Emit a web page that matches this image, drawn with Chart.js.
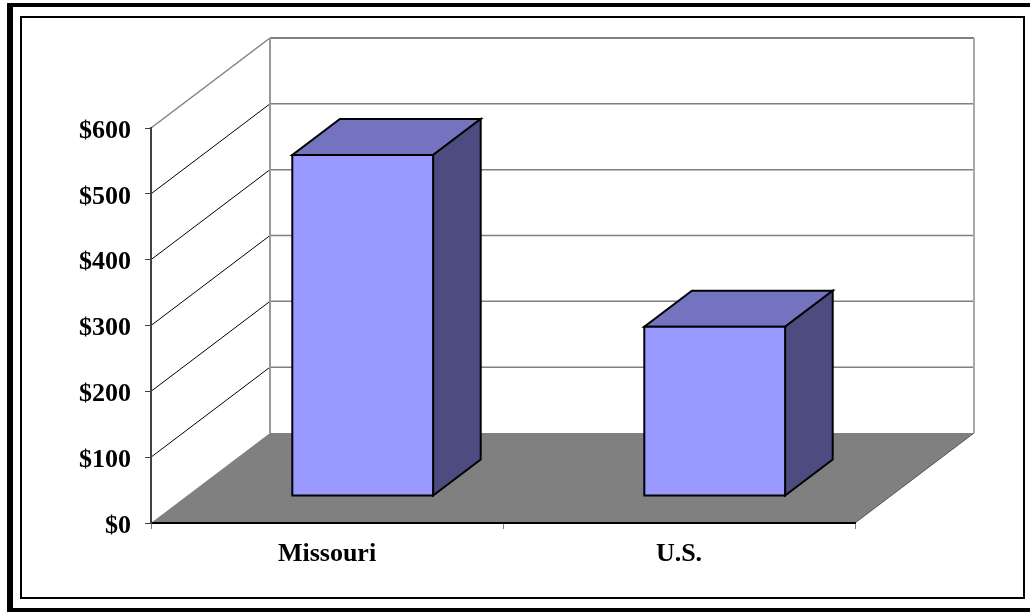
<!DOCTYPE html>
<html>
<head>
<meta charset="utf-8">
<script src="https://cdn.jsdelivr.net/npm/chart.js@4.4.1/dist/chart.umd.min.js"></script>
<style>
  html, body { margin: 0; padding: 0; background: #fff; }
  canvas { display: block; }
</style>
</head>
<body>
<canvas id="chart" width="1030" height="612"></canvas>
<script>
// Chart values
const categories = ['Missouri', 'U.S.'];
const amounts = [518, 257];
const tickValues = [0, 100, 200, 300, 400, 500, 600];
const tickLabels = ['$0', '$100', '$200', '$300', '$400', '$500', '$600'];

// Perspective offset from the front plane to the back wall, and the
// slice of that depth taken up by each box
const DEPTH = { x: 119, y: -90 };
const BAR_DEPTH = [0.3, 0.7];

const FACE = { front: '#9999ff', top: '#7373bf', side: '#4c4c80' };

// Page frame, walls, floor and gridlines drawn behind the axes
const box3d = {
  id: 'box3d',
  beforeDraw(chart) {
    const { ctx, chartArea: a, scales: { y } } = chart;
    const dx = DEPTH.x, dy = DEPTH.y;
    ctx.save();
    ctx.fillStyle = '#fff';
    ctx.fillRect(0, 0, chart.width, chart.height);

    // double border
    ctx.fillStyle = '#000';
    ctx.fillRect(7, 3, chart.width, 4);
    ctx.fillRect(7, 3, 6, chart.height);
    ctx.fillRect(7, 608, chart.width, 4);
    ctx.lineWidth = 2;
    ctx.strokeStyle = '#000';
    ctx.strokeRect(21, 17, 1003, 581);

    const y0 = y.getPixelForValue(tickValues[0]);
    const yTop = y.getPixelForValue(tickValues[tickValues.length - 1]);

    // floor
    ctx.fillStyle = '#808080';
    ctx.beginPath();
    ctx.moveTo(a.left, y0);
    ctx.lineTo(a.right, y0);
    ctx.lineTo(a.right + dx, y0 + dy);
    ctx.lineTo(a.left + dx, y0 + dy);
    ctx.closePath();
    ctx.fill();
    ctx.strokeStyle = '#555';
    ctx.lineWidth = 1;
    ctx.beginPath();
    ctx.moveTo(a.right, y0);
    ctx.lineTo(a.right + dx, y0 + dy);
    ctx.stroke();

    // back wall gridlines and side wall diagonals
    tickValues.forEach((v, i) => {
      if (i === 0) return;
      const py = y.getPixelForValue(v);
      const last = i === tickValues.length - 1;
      ctx.strokeStyle = '#808080';
      ctx.lineWidth = last ? 2 : 1.5;
      ctx.beginPath();
      ctx.moveTo(a.left + dx, py + dy);
      ctx.lineTo(a.right + dx, py + dy);
      ctx.stroke();
      ctx.strokeStyle = last ? '#808080' : '#000';
      ctx.lineWidth = last ? 1.5 : 1;
      ctx.beginPath();
      ctx.moveTo(a.left, py);
      ctx.lineTo(a.left + dx, py + dy);
      ctx.stroke();
    });

    // back wall vertical edges
    ctx.lineWidth = 2;
    ctx.strokeStyle = '#999';
    ctx.beginPath();
    ctx.moveTo(a.left + dx, yTop + dy);
    ctx.lineTo(a.left + dx, y0 + dy);
    ctx.stroke();
    ctx.strokeStyle = '#aaa';
    ctx.beginPath();
    ctx.moveTo(a.right + dx, yTop + dy);
    ctx.lineTo(a.right + dx, y0 + dy);
    ctx.stroke();
    ctx.restore();
  },
  // boxes built on the bar elements laid out by the chart
  afterDatasetsDraw(chart) {
    const ctx = chart.ctx;
    const meta = chart.getDatasetMeta(0);
    const ox0 = DEPTH.x * BAR_DEPTH[0], oy0 = DEPTH.y * BAR_DEPTH[0];
    const ox1 = DEPTH.x * BAR_DEPTH[1], oy1 = DEPTH.y * BAR_DEPTH[1];
    ctx.save();
    ctx.lineWidth = 2;
    ctx.strokeStyle = '#000';
    ctx.lineJoin = 'miter';
    meta.data.forEach(el => {
      const { x, y: top, base, width } = el.getProps(['x', 'y', 'base', 'width'], true);
      const L = x - width / 2, R = x + width / 2;
      const poly = (pts, fill) => {
        ctx.beginPath();
        ctx.moveTo(pts[0][0], pts[0][1]);
        for (let k = 1; k < pts.length; k++) ctx.lineTo(pts[k][0], pts[k][1]);
        ctx.closePath();
        ctx.fillStyle = fill;
        ctx.fill();
        ctx.stroke();
      };
      poly([[L + ox0, top + oy0], [R + ox0, top + oy0], [R + ox1, top + oy1], [L + ox1, top + oy1]], FACE.top);
      poly([[R + ox0, top + oy0], [R + ox1, top + oy1], [R + ox1, base + oy1], [R + ox0, base + oy0]], FACE.side);
      poly([[L + ox0, top + oy0], [R + ox0, top + oy0], [R + ox0, base + oy0], [L + ox0, base + oy0]], FACE.front);
    });
    ctx.restore();
  }
};

new Chart(document.getElementById('chart'), {
  type: 'bar',
  data: {
    labels: categories,
    datasets: [{
      data: amounts,
      backgroundColor: 'rgba(0,0,0,0)',
      borderWidth: 0,
      categoryPercentage: 0.4,
      barPercentage: 1.0
    }]
  },
  options: {
    responsive: false,
    animation: false,
    events: [],
    layout: { padding: { top: 128, right: 175, left: 0, bottom: 0 } },
    plugins: { legend: { display: false }, tooltip: { enabled: false } },
    scales: {
      x: {
        afterFit(s) { s.height = 89; },
        grid: { drawOnChartArea: false, drawTicks: true, tickLength: 6, color: '#808080', offset: true },
        border: { display: true, color: '#000', width: 2 },
        ticks: {
          padding: 10,
          color: '#000',
          font: { family: 'Liberation Serif', weight: 'bold', size: 26 }
        }
      },
      y: {
        min: 0,
        max: 600,
        afterFit(s) { s.width = 151; },
        afterBuildTicks(s) { s.ticks = tickValues.map(v => ({ value: v })); },
        grid: { drawOnChartArea: false, drawTicks: true, tickLength: 6, color: '#404040' },
        border: { display: true, color: '#404040', width: 2 },
        ticks: {
          padding: 14,
          labelOffset: 3,
          color: '#000',
          font: { family: 'Liberation Serif', weight: 'bold', size: 26 },
          callback(value, index) { return tickLabels[index]; }
        }
      }
    }
  },
  plugins: [box3d]
});
</script>
</body>
</html>
